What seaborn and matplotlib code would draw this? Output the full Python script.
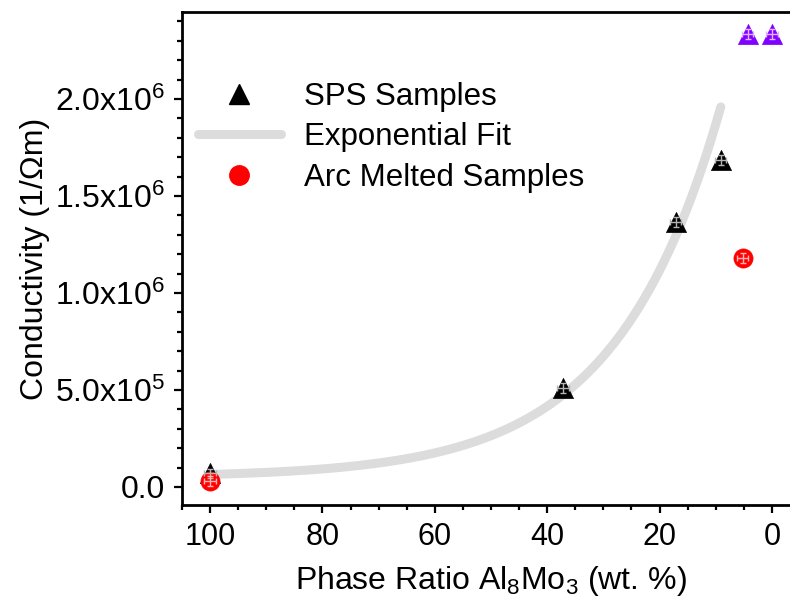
import numpy as np
import pandas as pd
import matplotlib
matplotlib.use("Agg")
import matplotlib.pyplot as plt
from matplotlib.lines import Line2D
from matplotlib.ticker import MultipleLocator, FuncFormatter
import seaborn as sns

# SPS samples: Al8Mo3 phase ratio (wt. %) vs conductivity (1/Ohm m)
sps_ratio = [100.0, 37.2, 17.1, 9.1]
sps_cond = [0.07e6, 0.51e6, 1.366e6, 1.686e6]

# Arc melted samples
arc_ratio = [100.0, 5.2]
arc_cond = [0.032e6, 1.18e6]

# Additional samples near 0 wt. %
extra_ratio = [4.3, 0.0]
extra_cond = [2.335e6, 2.335e6]

# Exponential fit y = y0 + A * exp(-x / t), drawn over 9.1 .. 100 wt. %
fit_y0 = 0.05e6
fit_A = 3.105e6
fit_t = 18.7
fit_range = (9.1, 100.0)

sns.set_theme(style="ticks")
plt.rcParams["font.family"] = ["Liberation Sans", "DejaVu Sans"]
plt.rcParams["mathtext.fontset"] = "custom"
plt.rcParams["mathtext.rm"] = "Liberation Sans"
plt.rcParams["mathtext.it"] = "Liberation Sans"
plt.rcParams["text.color"] = "black"
plt.rcParams["axes.labelcolor"] = "black"
plt.rcParams["xtick.color"] = "black"
plt.rcParams["ytick.color"] = "black"

fig = plt.figure(figsize=(7.9, 6.0), dpi=100)
W, H = 790, 600
left, right, top, bottom = 182, 800, 12, 505
ax = fig.add_axes([left / W, 1 - bottom / H, (right - left) / W, (bottom - top) / H])

fit_x = np.linspace(fit_range[0], fit_range[1], 300)
fit_df = pd.DataFrame({"x": fit_x, "y": fit_y0 + fit_A * np.exp(-fit_x / fit_t)})
sns.lineplot(data=fit_df, x="x", y="y", ax=ax, color="#dcdcdc", linewidth=6.5,
             solid_capstyle="round", zorder=1, sort=False)

def draw_points(xs, ys, marker, color, size, err_color):
    df = pd.DataFrame({"x": xs, "y": ys})
    sns.scatterplot(data=df, x="x", y="y", ax=ax, marker=marker, color=color,
                    s=size, edgecolor=color, linewidth=0.5, zorder=3)
    ax.errorbar(xs, ys, xerr=1.0, yerr=0.025e6, fmt="none", ecolor=err_color,
                elinewidth=1.0, capsize=2.5, capthick=1.0, zorder=4)

draw_points(sps_ratio, sps_cond, "^", "black", 210, "#b4b4b4")
draw_points(arc_ratio, arc_cond, "o", "#ff0000", 190, "#ffb4b4")
draw_points(extra_ratio, extra_cond, "^", "#8000ff", 210, "#e0b0ff")

ax.set_xlim(105, -5)
ax.set_ylim(-0.0928e6, 2.448e6)

ax.xaxis.set_major_locator(MultipleLocator(20))
ax.xaxis.set_minor_locator(MultipleLocator(5))
ax.yaxis.set_major_locator(MultipleLocator(0.5e6))
ax.yaxis.set_minor_locator(MultipleLocator(0.1e6))

def sci_fmt(v, pos):
    if abs(v) < 1e-9:
        return "0.0"
    e = int(np.floor(np.log10(abs(v))))
    m = v / 10 ** e
    return f"{m:.1f}x10$^{{{e}}}$"

ax.yaxis.set_major_formatter(FuncFormatter(sci_fmt))

for s in ["left", "bottom", "top", "right"]:
    ax.spines[s].set_linewidth(2.0)
    ax.spines[s].set_color("black")

ax.tick_params(axis="both", which="major", direction="out", length=6, width=1.6,
               pad=6, colors="black")
ax.tick_params(axis="x", which="major", labelsize=22)
ax.tick_params(axis="y", which="major", labelsize=23)
ax.tick_params(axis="both", which="minor", direction="out", length=3.5, width=1.6,
               colors="black")
ax.tick_params(top=False, right=False, which="both")

ax.set_xlabel("Phase Ratio Al$_8$Mo$_3$ (wt. %)", fontsize=23, labelpad=9,
              color="black")
ax.set_ylabel("Conductivity (1/\u03a9m)", fontsize=23, labelpad=4, color="black")

handles = [
    Line2D([], [], marker="^", color="black", linestyle="none", markersize=15),
    Line2D([], [], color="#dcdcdc", linewidth=6.5, solid_capstyle="round"),
    Line2D([], [], marker="o", color="#ff0000", linestyle="none", markersize=14),
]
labels = ["SPS Samples", "Exponential Fit", "Arc Melted Samples"]
leg = ax.legend(handles, labels, loc="upper left", frameon=False, fontsize=22.5,
                bbox_to_anchor=(198 / W, 1 - 82 / H), bbox_transform=fig.transFigure,
                borderpad=0, borderaxespad=0, handlelength=2.65, handletextpad=0.73,
                labelspacing=0.33)
for t in leg.get_texts():
    t.set_color("black")

fig.savefig("out.png", dpi=100)
